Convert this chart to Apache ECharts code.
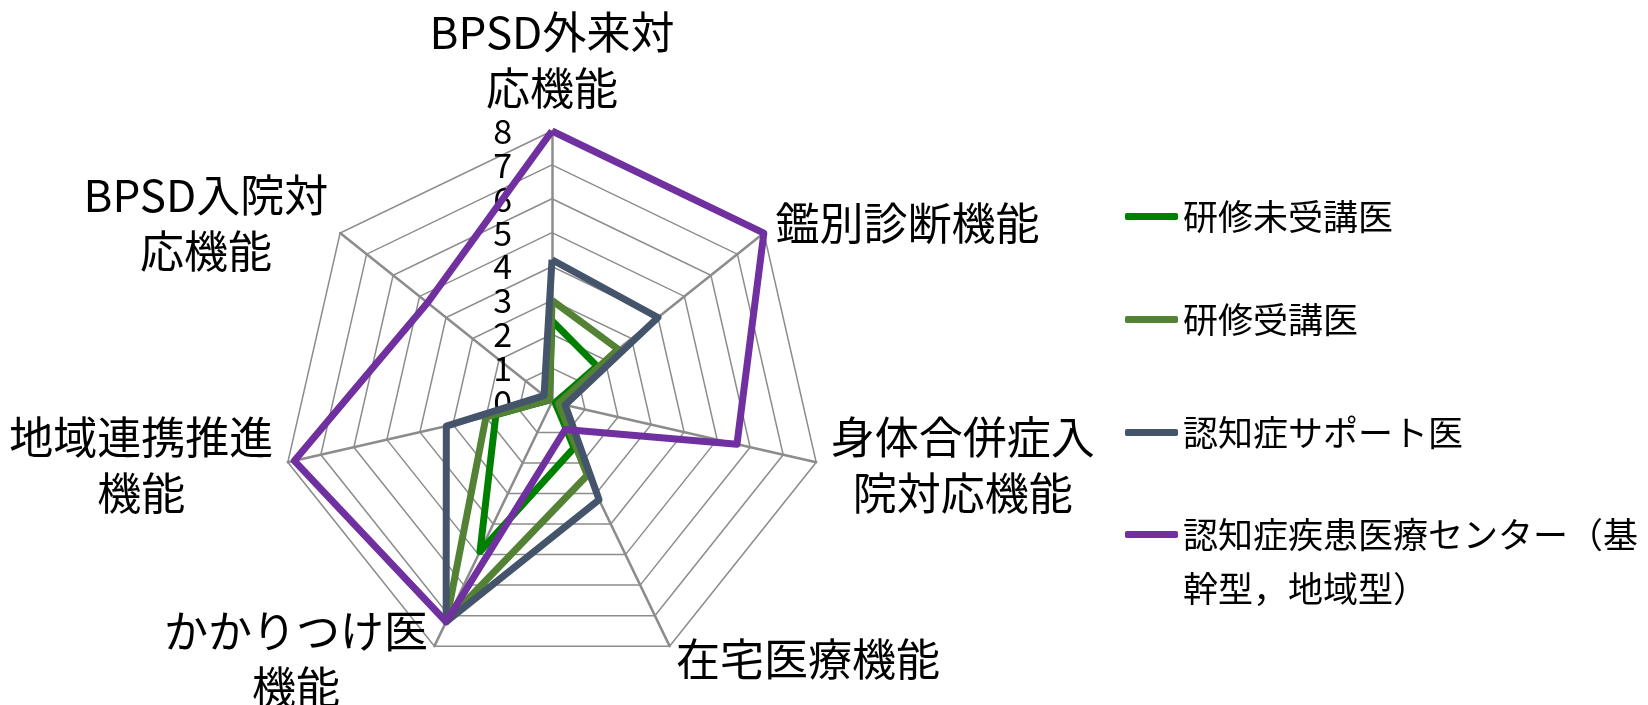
<!DOCTYPE html>
<html><head><meta charset="utf-8">
<script src="https://cdn.jsdelivr.net/npm/echarts@6/dist/echarts.min.js"></script>
<style>html,body{margin:0;padding:0;background:#fff}#chart{width:1648px;height:705px}</style>
</head><body><div id="chart"></div>
<script>
// Axes, clockwise from the top as in the reference
const categories = ['BPSD外来対応機能', '鑑別診断機能', '身体合併症入院対応機能', '在宅医療機能', 'かかりつけ医機能', '地域連携推進機能', 'BPSD入院対応機能'];
const categoryLabels = ['BPSD外来対\n応機能', '鑑別診断機能', '身体合併症入\n院対応機能', '在宅医療機能', 'かかりつけ医\n機能', '地域連携推進\n機能', 'BPSD入院対\n応機能'];
const seriesNames = ['研修未受講医', '研修受講医', '認知症サポート医', '認知症疾患医療センター（基幹型，地域型）'];
const legendLabels = ['研修未受講医', '研修受講医', '認知症サポート医', '認知症疾患医療センター（基\n幹型，地域型）'];
const valuesUntrained = [2.4, 1.7, 0.1, 1.5, 4.9, 1.7, 0.1];
const valuesTrained = [3.0, 2.5, 0.2, 2.4, 7.2, 2.0, 0.1];
const valuesSupport = [4.2, 4.0, 0.4, 3.2, 7.2, 3.2, 0.3];
const valuesCenter = [8.0, 8.0, 5.6, 0.9, 7.2, 7.8, 4.7];
const axisMin = 0;
const axisMax = 8;
const axisSplits = 8;

const colors = ['#008000', '#548235', '#44546A', '#7030A0'];
const FONT = '"Noto Sans CJK JP", "Noto Sans", sans-serif';
const NAME_SIZE = 44;
const allValues = [valuesUntrained, valuesTrained, valuesSupport, valuesCenter];

// ECharts places indicators counter-clockwise; reorder so the picture runs clockwise
const order = [0, 6, 5, 4, 3, 2, 1];
const labelMap = {};
categories.forEach((c, i) => { labelMap[c] = categoryLabels[i]; });

// measure label lines so that multi-line names can be centred line by line
const mctx = document.createElement('canvas').getContext('2d');
mctx.font = NAME_SIZE + 'px ' + FONT;
function maxLineWidth(text) {
  return Math.ceil(Math.max.apply(null, text.split('\n').map(s => mctx.measureText(s).width)));
}

const indicator = order.map((k, j) => {
  const ind = { name: categories[k], min: axisMin, max: axisMax };
  if (j === 0) {
    ind.axisLabel = {
      show: true, fontSize: 34, fontFamily: FONT, color: '#000', margin: 40,
      showMinLabel: true, showMaxLabel: true
    };
  }
  return ind;
});

const legendTops = [194, 297, 410, 512];
const legends = seriesNames.map((n, i) => ({
  data: [n],
  left: 1120,
  top: legendTops[i],
  orient: 'vertical',
  icon: 'roundRect',
  itemWidth: 53,
  itemHeight: 7,
  selectedMode: false,
  formatter: () => legendLabels[i].split('\n').map(s => '{a|' + s + '}').join('\n'),
  textStyle: {
    fontSize: 35, fontFamily: FONT, color: '#000',
    padding: i === 3 ? [54, 0, 0, 0] : 0,
    rich: { a: { fontSize: 35, fontFamily: FONT, color: '#000', lineHeight: i === 3 ? 54 : 40 } }
  }
}));

const chart = echarts.init(document.getElementById('chart'), null, { renderer: 'canvas' });
chart.setOption({
  animation: false,
  backgroundColor: '#fff',
  legend: legends,
  radar: {
    center: [552, 402],
    radius: 271,
    startAngle: 90,
    splitNumber: axisSplits,
    shape: 'polygon',
    indicator: indicator,
    nameGap: 15,
    axisName: {
      color: '#000',
      fontSize: NAME_SIZE,
      fontFamily: FONT,
      formatter: (name) => {
        const lbl = labelMap[name];
        const w = maxLineWidth(lbl);
        return lbl.split('\n').map(s => '{c' + w + '|' + s + '}').join('\n');
      },
      rich: (() => {
        const r = {};
        categoryLabels.forEach(l => {
          const w = maxLineWidth(l);
          r['c' + w] = { width: w, align: 'center', fontSize: NAME_SIZE, lineHeight: 56, fontFamily: FONT, color: '#000' };
        });
        return r;
      })()
    },
    axisLabel: { show: false },
    axisTick: { show: false },
    axisLine: { lineStyle: { color: '#8c8c8c', width: 2.5 } },
    splitLine: { lineStyle: { color: '#8c8c8c', width: 1.5 } },
    splitArea: { show: false }
  },
  series: [{
    type: 'radar',
    symbol: 'none',
    data: allValues.map((vals, i) => ({
      name: seriesNames[i],
      value: order.map(k => vals[k]),
      lineStyle: { color: colors[i], width: 7 },
      itemStyle: { color: colors[i] }
    }))
  }]
});
</script></body></html>
